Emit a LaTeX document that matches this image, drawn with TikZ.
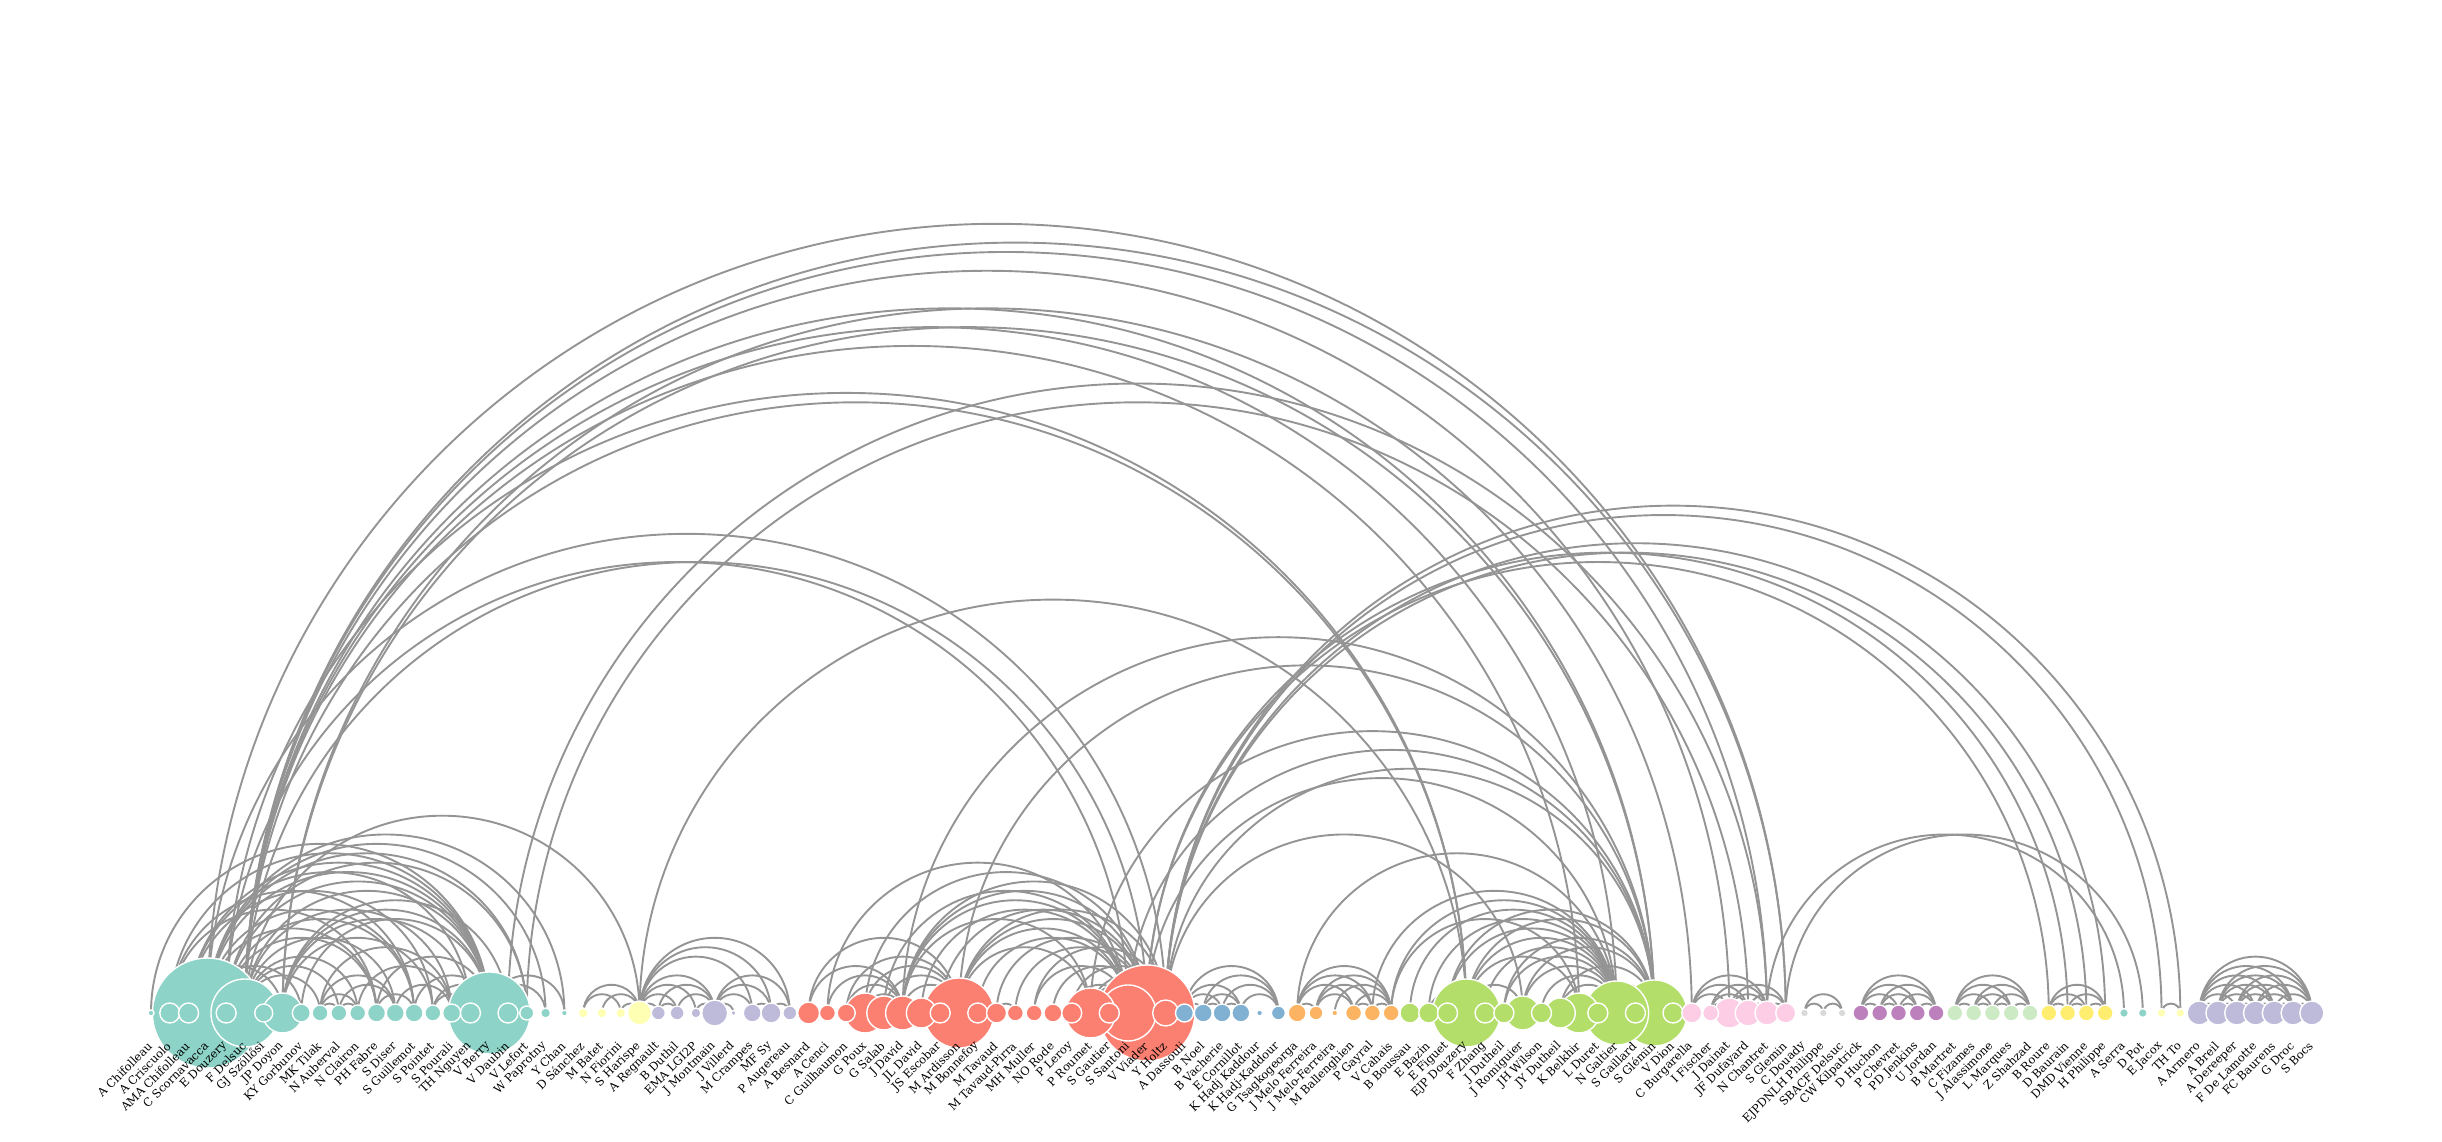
\documentclass[tikz,border=0pt]{standalone}
\usepackage{fontspec}
\setmainfont{DejaVu Serif}
\usetikzlibrary{calc}
\definecolor{grpA}{HTML}{8DD3C7}
\definecolor{grpB}{HTML}{FFFFB3}
\definecolor{grpC}{HTML}{BEBADA}
\definecolor{grpD}{HTML}{FB8072}
\definecolor{grpE}{HTML}{80B1D3}
\definecolor{grpF}{HTML}{FDB462}
\definecolor{grpG}{HTML}{B3DE69}
\definecolor{grpH}{HTML}{FCCDE5}
\definecolor{grpI}{HTML}{D9D9D9}
\definecolor{grpJ}{HTML}{BC80BD}
\definecolor{grpK}{HTML}{CCEBC5}
\definecolor{grpL}{HTML}{FFED6F}
\pgfdeclarelayer{arcs}
\pgfsetlayers{arcs,main}
\tikzset{
  author/.style={circle, draw=white, line width=1.4pt, inner sep=0pt, minimum size=#1*2pt},
  lab/.style={rotate=45, anchor=east, inner sep=0pt, font=\fontsize{11.5}{11.5}\selectfont},
  link/.style={draw=black!42, line width=1.9pt}
}
\newcommand{\coauth}[2]{%
  \draw[link] let \p1=(n#1.center), \p2=(n#2.center), \n1={(\x2-\x1)/2} in
    (\p1) arc[start angle=180, end angle=0, radius=\n1];}

\begin{document}
\begin{tikzpicture}[x=1pt,y=1pt]
\useasboundingbox (0,0) rectangle (2442,1142);

% authors, biggest circles first
\foreach \i/\r/\c in {4/55/grpA,54/48/grpD,19/41/grpA,44/35/grpD,6/34/grpA,71/34/grpG,
  81/33/grpG,79/32/grpG,53/28/grpD,51/25/grpD,8/20/grpA,39/20/grpD,77/20/grpG,
  40/17/grpD,41/17/grpD,74/17/grpG,42/15/grpD,76/15/grpG,85/15/grpH,
  1/3/grpA,2/10/grpA,3/10/grpA,5/10/grpA,7/9/grpA,9/9/grpA,10/8/grpA,11/8/grpA,
  12/8/grpA,13/9/grpA,14/9/grpA,15/9/grpA,16/8/grpA,17/9/grpA,18/10/grpA,20/10/grpA,
  21/7/grpA,22/5/grpA,23/3/grpA,
  24/5/grpB,25/5/grpB,26/5/grpB,27/12/grpB,
  28/7/grpC,29/7/grpC,30/5/grpC,31/13/grpC,32/2.5/grpC,33/9/grpC,34/10/grpC,35/7/grpC,
  36/11/grpD,37/8/grpD,38/9/grpD,43/10/grpD,45/10/grpD,46/10/grpD,47/8/grpD,
  48/8/grpD,49/9/grpD,50/10/grpD,52/10/grpD,55/13/grpD,
  56/9/grpE,57/9/grpE,58/9/grpE,59/9/grpE,60/3/grpE,61/7/grpE,
  62/9/grpF,63/7/grpF,64/3/grpF,65/8/grpF,66/8/grpF,67/8/grpF,
  68/10/grpG,69/10/grpG,70/10/grpG,72/10/grpG,73/10/grpG,75/10/grpG,78/10/grpG,
  80/10/grpG,82/10/grpG,
  83/10/grpH,84/8/grpH,86/13/grpH,87/12/grpH,88/10/grpH,
  89/4/grpI,90/4/grpI,91/4/grpI,
  92/8/grpJ,93/8/grpJ,94/8/grpJ,95/8/grpJ,96/8/grpJ,
  97/8/grpK,98/8/grpK,99/8/grpK,100/8/grpK,101/8/grpK,
  102/8/grpL,103/8/grpL,104/8/grpL,105/8/grpL,
  106/4.5/grpA,107/4.5/grpA,108/4.5/grpB,109/4.5/grpB,
  110/12/grpC,111/12/grpC,112/12/grpC,113/12/grpC,114/12/grpC,115/12/grpC,116/12/grpC}
  \node[author=\r, fill=\c] (n\i) at ({151+(\i-1)*18.79}, 129) {};

% names
\foreach \i/\t in {1/A Chifolleau,2/A Criscuolo,3/AMA Chifolleau,4/C Scornavacca,
  5/E Douzery,6/F Delsuc,7/GJ Szöllősi,8/JP Doyon,9/KY Gorbunov,10/MK Tilak,
  11/N Auberval,12/N Clairon,13/PH Fabre,14/S Diser,15/S Guillemot,16/S Pointet,
  17/S Pourali,18/TH Nguyen,19/V Berry,20/V Daubin,21/V Lefort,22/W Paprotny,
  23/Y Chan,24/D Sánchez,25/M Batet,26/N Fiorini,27/S Harispe,28/A Regnault,
  29/B Duthil,30/EMA LGI2P,31/J Montmain,32/J Villerd,33/M Crampes,34/MF Sy,
  35/P Augereau,36/A Besnard,37/A Cenci,38/C Guilhaumon,39/G Poux,40/G Salab,
  41/J David,42/JL David,43/JS Escobar,44/M Ardisson,45/M Bonnefoy,46/M Tavaud,
  47/M Tavaud-Pirra,48/MH Muller,49/NO Rode,50/P Leroy,51/P Roumet,52/S Gautier,
  53/S Santoni,54/V Viader,55/Y Holtz,56/A Dassouli,57/B Noel,58/B Vacherie,
  59/E Cornillot,60/K Hadj Kaddour,61/K Hadj-Kaddour,62/G Tsagkogeorga,
  63/J Melo Ferreira,64/J Melo-Ferreira,65/M Ballenghien,66/P Gayral,67/V Cahais,
  68/B Boussau,69/E Bazin,70/E Figuet,71/EJP Douzery,72/F Zhang,73/J Dutheil,
  74/J Romiguier,75/JH Wilson,76/JY Dutheil,77/K Belkhir,78/L Duret,79/N Galtier,
  80/S Gaillard,81/S Glémin,82/V Dion,83/C Burgarella,84/I Fischer,85/J Dainat,
  86/JF Dufayard,87/N Chantret,88/S Glemin,89/C Douady,90/EJPDNLH Philippe,
  91/SBACF Delsuc,92/CW Kilpatrick,93/D Huchon,94/P Chevret,95/PD Jenkins,
  96/U Jordan,97/B Martret,98/C Fizames,99/J Alassimone,100/L Marques,
  101/Z Shahzad,102/B Roure,103/D Baurain,104/DMD Vienne,105/H Philippe,
  106/A Serra,107/D Pot,108/E Jacox,109/TH To,110/A Armero,111/A Breil,
  112/A Dereeper,113/F De Lamotte,114/FC Baurens,115/G Droc,116/S Bocs}
  \node[lab] (l\i) at ($(n\i.center)+(-1,-31)$) {\t};

% co-authorship arcs
\begin{pgfonlayer}{arcs}
\foreach \a/\b in {2/4,2/5,2/13,2/15,2/19,4/5,4/13,4/15,4/19,5/13,5/15,5/19,13/15,13/19,15/19,
  4/21,19/21,5/21,3/8,3/16,3/18,3/19,8/16,8/18,8/19,16/18,16/19,18/19,8/20,19/20,
  4/22,19/22,4/23,19/23,6/10,6/11,6/12,6/14,6/17,10/11,10/12,10/14,10/17,11/12,11/14,
  12/17,14/17,1/3,1/19,4/7,9/19,4/9,4/6,5/6,6/19,
  24/27,25/27,26/27,24/26,27/28,27/29,27/30,27/31,27/33,27/34,27/35,28/31,29/31,
  30/31,31/32,31/33,31/34,31/35,33/34,34/35,28/29,
  6/27,27/71,6/71,
  36/41,37/41,38/44,39/41,39/44,40/44,41/44,41/51,41/53,41/54,41/55,44/51,44/53,
  44/54,44/55,51/53,51/54,51/55,53/54,53/55,54/55,42/44,42/53,43/44,43/54,45/44,
  45/53,46/47,46/54,47/54,48/53,48/55,49/54,50/53,50/55,52/54,52/51,40/53,39/54,
  36/44,37/53,38/41,
  41/81,44/81,53/81,55/81,54/79,51/81,55/74,
  5/53,6/54,4/55,
  56/57,56/58,56/59,56/61,57/58,57/59,58/59,59/61,57/61,58/61,
  62/63,62/65,62/66,62/67,63/65,63/66,63/67,65/66,65/67,66/67,64/67,
  66/79,67/79,67/77,62/79,
  71/79,71/81,79/81,74/79,74/81,76/81,77/79,78/79,78/81,80/81,79/80,69/79,70/79,
  70/81,72/79,73/79,75/79,81/82,68/79,69/71,71/77,71/74,76/79,73/81,
  6/77,6/79,5/71,6/81,
  83/85,83/86,83/87,84/85,84/86,84/87,85/86,85/87,85/88,86/87,86/88,87/88,
  89/90,90/91,89/91,
  92/93,92/94,92/95,92/96,93/94,93/95,93/96,94/95,94/96,95/96,
  97/98,97/99,97/100,97/101,98/99,98/100,98/101,99/100,99/101,100/101,
  102/103,102/104,102/105,103/104,103/105,104/105,
  108/109,
  110/111,110/112,110/113,110/114,110/115,110/116,111/112,111/113,111/114,111/115,
  111/116,112/113,112/114,112/115,112/116,113/114,113/115,113/116,114/115,114/116,115/116,
  4/88,6/88,6/87,6/85,8/83,8/81,20/87,21/86,
  87/106,88/107,
  54/102,54/103,55/104,55/105,55/108,55/109}
  {\coauth{\a}{\b}}
\end{pgfonlayer}
\end{tikzpicture}
\end{document}
